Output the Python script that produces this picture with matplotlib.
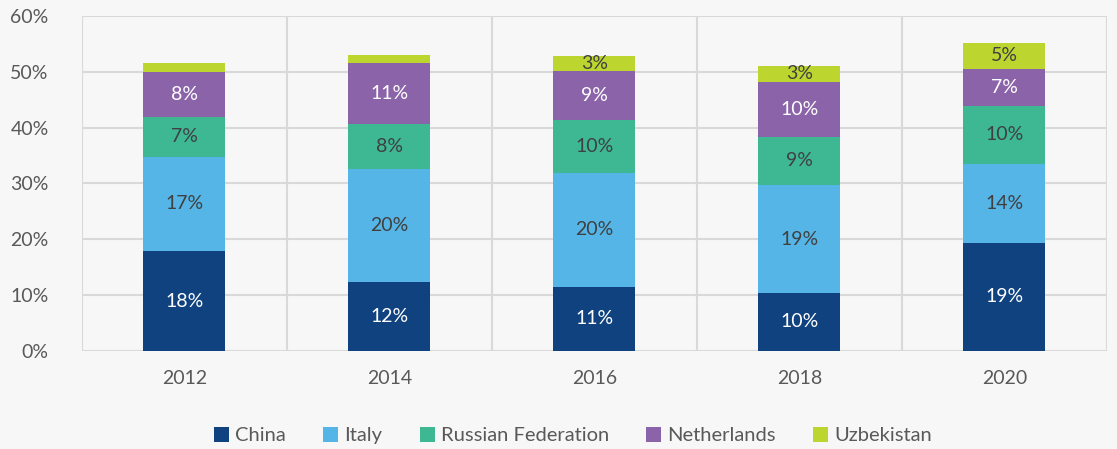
import numpy as np
from matplotlib import pyplot as plt
from matplotlib.patches import Patch

plt.rcParams['font.family'] = ['Lato', 'DejaVu Sans']

### datos (en %)
years = ['2012', '2014', '2016', '2018', '2020']
china = [17.9, 12.4, 11.5, 10.4, 19.4]
italy = [16.9, 20.2, 20.4, 19.3, 14.1]
russia = [7.1, 8.1, 9.5, 8.7, 10.4]
netherlands = [8.1, 10.9, 8.8, 9.8, 6.6]
uzbekistan = [1.6, 1.4, 2.7, 2.9, 4.7]
labels_china = ['18%', '12%', '11%', '10%', '19%']
labels_italy = ['17%', '20%', '20%', '19%', '14%']
labels_russia = ['7%', '8%', '10%', '9%', '10%']
labels_neth = ['8%', '11%', '9%', '10%', '7%']
labels_uzb = ['', '', '3%', '3%', '5%']

names = ['China', 'Italy', 'Russian Federation', 'Netherlands', 'Uzbekistan']
colors = ['#10427f', '#55b5e6', '#3db892', '#8b63a9', '#bdd62f']
text_colors = ['white', '#404040', '#404040', 'white', '#404040']

bg = '#f7f7f7'
fig = plt.figure(figsize=(11.17, 4.49), dpi=100, facecolor=bg)
ax = fig.add_axes([0.0734, 0.2183, 0.9176, 0.7461], facecolor=bg)

x = np.arange(len(years))
bottom = np.zeros(len(years))
series = [china, italy, russia, netherlands, uzbekistan]
all_labels = [labels_china, labels_italy, labels_russia, labels_neth, labels_uzb]
for vals, col, tcol, labs in zip(series, colors, text_colors, all_labels):
    bars = ax.bar(x, vals, width=0.4, bottom=bottom, color=col, zorder=3)
    ax.bar_label(bars, labels=labs, label_type='center', color=tcol, fontsize=14)
    bottom = bottom + np.array(vals)

### ejes y rejilla
ax.set_xlim(-0.5, len(years) - 0.5)
ax.set_ylim(0, 60)
ax.set_yticks(range(0, 61, 10))
ax.set_yticklabels([f'{v}%' for v in range(0, 61, 10)], fontsize=14, color='#595959')
ax.set_xticks(x)
ax.set_xticklabels(years, fontsize=14, color='#595959')
ax.tick_params(length=0)
ax.tick_params(axis='y', pad=24)
ax.tick_params(axis='x', pad=14)
ax.set_xticks(np.arange(-0.5, len(years)), minor=True)
ax.tick_params(which='minor', length=0)
ax.grid(axis='y', which='major', color='#d9d9d9', linewidth=1.5, zorder=0)
ax.grid(axis='x', which='minor', color='#d9d9d9', linewidth=1.5, zorder=0)
for s in ax.spines.values():
    s.set_visible(False)

handles = [Patch(facecolor=c, label=n) for c, n in zip(colors, names)]
fig.legend(handles=handles, loc='lower center', bbox_to_anchor=(0.513, -0.03), ncol=5,
           frameon=False, fontsize=14.5, labelcolor='#595959', handlelength=0.75,
           handleheight=0.75, handletextpad=0.3, columnspacing=1.85)

fig.savefig('out.png', dpi=100, facecolor=bg)
